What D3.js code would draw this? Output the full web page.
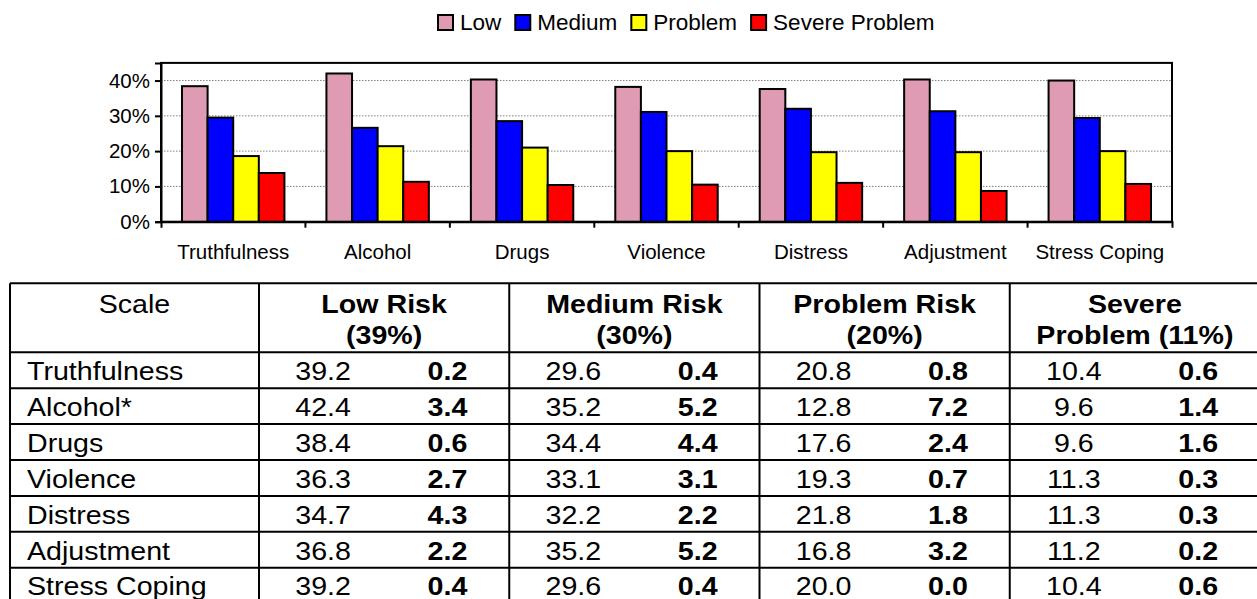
<!DOCTYPE html>
<html><head><meta charset="utf-8">
<script src="https://cdn.jsdelivr.net/npm/d3@7/dist/d3.min.js"></script>
<style>
html,body{margin:0;padding:0;background:#fff;}
svg{display:block;font-family:"Liberation Sans",Arial,sans-serif;}
</style></head><body>
<svg id="c" width="1257" height="599"></svg>
<script>
// ---- chart data ----
const categories = ["Truthfulness","Alcohol","Drugs","Violence","Distress","Adjustment","Stress Coping"];
const seriesNames = ["Low","Medium","Problem","Severe Problem"];
const lowBars     = [38.4, 42.0, 40.3, 38.2, 37.6, 40.3, 40.0];
const mediumBars  = [29.5, 26.6, 28.5, 31.1, 32.0, 31.3, 29.4];
const problemBars = [18.6, 21.4, 21.0, 20.0, 19.7, 19.7, 20.0];
const severeBars  = [13.8, 11.3, 10.4, 10.5, 11.0, 8.7, 10.7];
const yTicks = [0, 10, 20, 30, 40];
const yMax = 45;

// ---- table data ----
const scaleHeader = "Scale";
const groupTitles = [["Low Risk","(39%)"],["Medium Risk","(30%)"],["Problem Risk","(20%)"],["Severe","Problem (11%)"]];
const rowLabels = ["Truthfulness","Alcohol*","Drugs","Violence","Distress","Adjustment","Stress Coping"];
const lowRisk         = ["39.2","42.4","38.4","36.3","34.7","36.8","39.2"];
const lowRiskDiff     = ["0.2","3.4","0.6","2.7","4.3","2.2","0.4"];
const mediumRisk      = ["29.6","35.2","34.4","33.1","32.2","35.2","29.6"];
const mediumRiskDiff  = ["0.4","5.2","4.4","3.1","2.2","5.2","0.4"];
const problemRisk     = ["20.8","12.8","17.6","19.3","21.8","16.8","20.0"];
const problemRiskDiff = ["0.8","7.2","2.4","0.7","1.8","3.2","0.0"];
const severeRisk      = ["10.4","9.6","9.6","11.3","11.3","11.2","10.4"];
const severeRiskDiff  = ["0.6","1.4","1.6","0.3","0.3","0.2","0.6"];

const svg = d3.select("#c");
const colors = ["#df9bb3","#0000ff","#ffff00","#ff0000"];
const seriesVals = [lowBars, mediumBars, problemBars, severeBars];

// ---- chart ----
const plot = {l:161, r:1172, t:62.9, b:221.7};
const x0 = d3.scaleBand().domain(categories).range([plot.l, plot.r]).padding(0);
const x1 = d3.scaleBand().domain(seriesNames).range([0, x0.bandwidth()]).paddingInner(0).paddingOuter(0.82);
const y = d3.scaleLinear().domain([0, yMax]).range([plot.b, plot.t]);

svg.append("g").selectAll("line").data(yTicks.filter(d => d > 0)).join("line")
  .attr("x1", plot.l).attr("x2", plot.r)
  .attr("y1", d => y(d)).attr("y2", d => y(d))
  .attr("stroke", "#7f7f7f").attr("stroke-width", 1).attr("stroke-dasharray", "1.5,1.5");

svg.append("rect").attr("x", plot.l).attr("y", plot.t)
  .attr("width", plot.r - plot.l).attr("height", plot.b - plot.t)
  .attr("fill", "none").attr("stroke", "#000").attr("stroke-width", 2);

const barData = [];
categories.forEach((c, ci) => seriesNames.forEach((s, si) => barData.push({c, s, si, v: seriesVals[si][ci]})));
svg.append("g").selectAll("rect").data(barData).join("rect")
  .attr("x", d => x0(d.c) + x1(d.s))
  .attr("y", d => y(d.v))
  .attr("width", x1.bandwidth())
  .attr("height", d => y(0) - y(d.v))
  .attr("fill", d => colors[d.si])
  .attr("stroke", "#000").attr("stroke-width", 2);

const yAxis = svg.append("g").attr("transform", `translate(${plot.l},0)`)
  .call(d3.axisLeft(y).tickValues(yTicks).tickSize(6).tickPadding(5).tickFormat(d => d + "%"));
yAxis.selectAll("path,line").attr("stroke", "#000").attr("stroke-width", 2);
yAxis.selectAll("text").attr("font-size", "20.5px").attr("fill", "#000").attr("font-family", "Liberation Sans, Arial, sans-serif");

const xAxis = svg.append("g").attr("transform", `translate(0,${plot.b})`)
  .call(d3.axisBottom(x0).tickSize(0).tickSizeOuter(6).tickPadding(23));
xAxis.selectAll("path").attr("stroke", "#000").attr("stroke-width", 2);
xAxis.selectAll("text").attr("font-size", "20.5px").attr("fill", "#000").attr("font-family", "Liberation Sans, Arial, sans-serif");
xAxis.append("g").selectAll("line").data(categories.slice(1)).join("line")
  .attr("x1", d => x0(d)).attr("x2", d => x0(d)).attr("y1", 0).attr("y2", 6)
  .attr("stroke", "#000").attr("stroke-width", 2);

// legend
const leg = svg.append("g");
let lx = 437;
seriesNames.forEach((s, i) => {
  leg.append("rect").attr("x", lx + 1).attr("y", 15).attr("width", 15).attr("height", 15)
    .attr("fill", colors[i]).attr("stroke", "#000").attr("stroke-width", 2);
  const t = leg.append("text").attr("x", lx + 23).attr("y", 30).attr("font-size", "22.5px").attr("fill", "#000").text(s);
  lx += 23 + t.node().getComputedTextLength() + 13;
});

// ---- table ----
const tbl = {l:10, split:259, r:1260, t:283.3, hb:352.3, rowH:35.9};
const gx = d3.scaleBand().domain(d3.range(4)).range([tbl.split, tbl.r]);
const ry = d3.scaleBand().domain(rowLabels).range([tbl.hb, tbl.hb + tbl.rowH * rowLabels.length]);
const tg = svg.append("g");
const hLines = [tbl.t, tbl.hb].concat(rowLabels.slice(1).map(r => ry(r))).concat([tbl.hb + tbl.rowH * rowLabels.length]);
tg.selectAll("line.h").data(hLines).join("line").attr("class","h")
  .attr("x1", tbl.l).attr("x2", tbl.r).attr("y1", d => d).attr("y2", d => d)
  .attr("stroke", "#000").attr("stroke-width", 2);
const vLines = [tbl.l, tbl.split].concat(d3.range(1,4).map(i => gx(i))).concat([tbl.r]);
tg.selectAll("line.v").data(vLines).join("line").attr("class","v")
  .attr("x1", d => d).attr("x2", d => d).attr("y1", tbl.t).attr("y2", tbl.hb + tbl.rowH * rowLabels.length)
  .attr("stroke", "#000").attr("stroke-width", 2);

const FS = 26, SX = 1.1;
function txt(x, yy, s, anchor, bold) {
  tg.append("text").attr("transform", `translate(${x},${yy}) scale(${SX},1)`)
    .attr("text-anchor", anchor).attr("font-size", FS + "px")
    .attr("font-weight", bold ? "bold" : "normal").attr("fill", "#000").text(s);
}
txt((tbl.l + tbl.split) / 2, 312.5, scaleHeader, "middle", false);
groupTitles.forEach((g, i) => {
  txt(gx(i) + gx.bandwidth() / 2, 312.5, g[0], "middle", true);
  txt(gx(i) + gx.bandwidth() / 2, 343.5, g[1], "middle", true);
});
const valCols = [[lowRisk, lowRiskDiff],[mediumRisk, mediumRiskDiff],[problemRisk, problemRiskDiff],[severeRisk, severeRiskDiff]];
rowLabels.forEach((r, ri) => {
  const by = ry(r) + 27.7;
  txt(tbl.l + 17, by, r, "start", false);
  valCols.forEach((vc, gi) => {
    txt(gx(gi) + gx.bandwidth() * 0.256, by, vc[0][ri], "middle", false);
    txt(gx(gi) + gx.bandwidth() * 0.753, by, vc[1][ri], "middle", true);
  });
});
</script>
</body></html>
